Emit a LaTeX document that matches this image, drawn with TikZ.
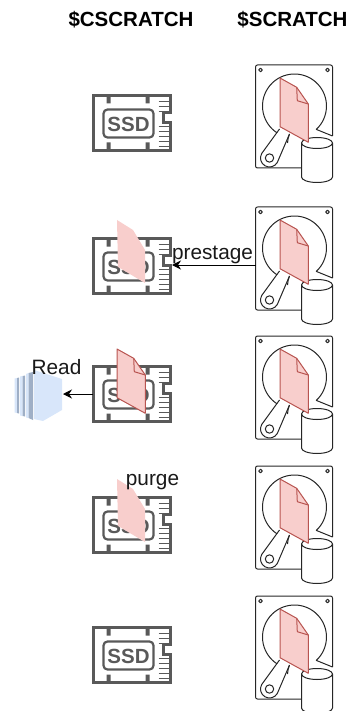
\documentclass[tikz,border=0pt]{standalone}
\usepackage{fontspec}
\setmainfont{Liberation Sans}
\usetikzlibrary{arrows.meta}
\definecolor{ssdgray}{HTML}{595959}
\definecolor{docfill}{HTML}{F8CECC}
\definecolor{docline}{HTML}{B85450}
\definecolor{cubefront}{HTML}{D8E6FA}
\definecolor{cubeside}{HTML}{9FAFC6}
\tikzset{
  hddline/.style={draw=black!85,line width=1pt,line join=round},
  ssdline/.style={draw=ssdgray,line width=2.2pt},
  ssdtext/.style={text=ssdgray,font=\bfseries\fontsize{20.5}{20}\selectfont,inner sep=0pt},
  header/.style={font=\bfseries\fontsize{20.5}{20}\selectfont,inner sep=0pt},
  label/.style={font=\fontsize{20.8}{20}\selectfont,inner sep=0pt,text=black!90,anchor=base},
  flow/.style={draw=black,line width=1pt,-{Stealth[length=9pt,width=9pt,inset=3pt]}},
  pics/ssd/.style={code={
    \draw[ssdline] (0,0) -- (77,0) -- (77,17) -- (70,17) -- (70,27) -- (77,27) -- (77,55) -- (0,55) -- cycle;
    \draw[ssdline,rounded corners=4pt] (10,14) rectangle (60,42);
    \fill[ssdgray] (13,0) rectangle (17,8) (52,0) rectangle (56,8) (13,47) rectangle (17,55) (52,47) rectangle (56,55);
    \foreach \yy in {6,11,16,31,36,41,46,51}{\draw[ssdgray,line width=1.3pt] (65,\yy) -- (75,\yy);}
    \node[ssdtext] at (35,28.5) {SSD};
  }},
  pics/hdd/.style={code={
    \draw[hddline,rounded corners=2pt] (46,103) -- (0,103) -- (0,0) -- (77,0) -- (77,71);
    \draw[hddline] (5,5) circle[radius=1.8pt] (72,5) circle[radius=1.8pt];
    \draw[hddline] (77,71) -- (60.8,64.4) arc[start angle=-47,end angle=237,radius=32pt];
    \draw[hddline] (24,64) -- (6.2,88.5) arc[start angle=150,end angle=330,radius=9pt] -- (34,69);
    \draw[hddline] (34,69) .. controls (33,72) and (32,75) .. (32,78);
    \draw[hddline] (14,93) circle[radius=4.2pt];
    \draw[hddline,fill=white] (46,78) arc[start angle=180,end angle=0,x radius=15.5pt,y radius=5.5pt] -- (77,112) arc[start angle=0,end angle=-180,x radius=15.5pt,y radius=5.5pt] -- cycle;
    \draw[hddline] (46,78) arc[start angle=180,end angle=360,x radius=15.5pt,y radius=5.5pt];
  }},
  pics/doc/.style={code={
    \draw[draw=docline,fill=docfill,line width=1pt,line join=round] (0,0) -- (16.7,9.3) -- (28.3,26) -- (28.3,64.3) -- (0,48.7) -- cycle;
    \draw[draw=docline,line width=1pt,line join=round] (16.7,9.3) -- (17.3,22.7) -- (28.3,26);
  }},
  pics/palefile/.style={code={
    \fill[docfill] (0,0) -- (16,10) -- (28,30) -- (28,63) -- (1,47) -- cycle;
  }}
}
\begin{document}
\begin{tikzpicture}[x=1pt,y=-1pt]
\useasboundingbox (0,0) rectangle (352,711);
\node[header] (hc) at (131,20) {\$CSCRATCH};
\node[header] (hs) at (292.5,20) {\$SCRATCH};
% SSD column
\pic at (93.5,95.5) {ssd};
\pic at (93.5,238.5) {ssd};
\pic at (93.5,366.5) {ssd};
\pic at (93.5,497.5) {ssd};
\pic at (93.5,627.5) {ssd};
% HDD column
\foreach \yy in {65,207,336,466,596}{
  \pic at (255.5,\yy) {hdd};
  \pic at (280,\yy+13) {doc};
}
% pale and solid files on the SSDs
\pic at (117,220) {palefile};
\pic at (117,349) {doc};
\pic at (117,479) {palefile};
% cube
\fill[cubefront] (14.7,378.5) -- (17,378) -- (17,413) -- (14.7,412.5) -- cycle;
\fill[cubeside] (17,378) -- (19,377.5) -- (19,413.5) -- (17,413) -- cycle;
\fill[cubefront] (20,376.5) -- (22.7,376) -- (22.7,416) -- (20,415.5) -- cycle;
\fill[cubeside] (22.7,376) -- (25,375.5) -- (25,416.5) -- (22.7,416) -- cycle;
\fill[cubefront] (26,374) -- (28.5,373) -- (28.5,418) -- (26,417.5) -- cycle;
\fill[cubeside] (28.5,373) -- (33,372) -- (33,420) -- (28.5,418) -- cycle;
\fill[cubefront] (34,370) -- (62,379) -- (62,410) -- (43,421) -- (34,419) -- cycle;
% anchors
\coordinate (hddw) at (255.5,265);
\coordinate (ssde) at (172,265);
\coordinate (ssdw) at (93,394);
\coordinate (cubee) at (63,394);
\draw[flow] (hddw) -- (ssde);
\draw[flow] (ssdw) -- (cubee);
\node[label] (lp) at (212.5,259) {prestage};
\node[label] (lr) at (56.5,374) {Read};
\node[label] (lg) at (152.5,485) {purge};
\end{tikzpicture}
\end{document}
